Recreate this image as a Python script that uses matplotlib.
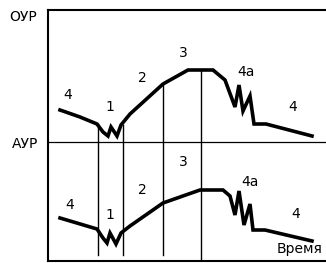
import matplotlib
matplotlib.use("Agg")
import matplotlib.pyplot as plt

# upper curve (ОУР), time vs level
upper_t = [12, 32, 49, 55, 60, 63, 69, 73, 82, 115, 140, 165, 177, 187, 191, 195, 202, 206, 218, 264]
upper_y = [151, 144, 137, 129, 125, 134, 125, 136, 147, 177, 191, 191, 181, 154, 176, 150, 165, 137, 137, 125]

# lower curve (АУР)
lower_t = [12, 49, 55, 59, 62, 68, 73, 82, 115, 152, 175, 182, 187, 191, 196, 202, 205, 217, 264]
lower_y = [43, 32, 23, 18, 28, 17, 28, 35, 58, 71, 71, 65, 46, 70, 36, 57, 31, 31, 20]

# phase boundaries: x, top, bottom
bounds_x = [50, 75, 115, 153]
bounds_top = [137, 136, 176, 191]
bounds_bot = [6, 6, 6, 0]

aur_level = 119

upper_labels = ["4", "1", "2", "3", "4а", "4"]
upper_lab_t = [20, 62, 94, 135, 198, 245]
upper_lab_y = [166, 154, 183, 208, 189, 154]

lower_labels = ["4", "1", "2", "3", "4а", "4"]
lower_lab_t = [22, 62, 94, 135, 202, 248]
lower_lab_y = [56, 46, 71, 99, 79, 47]

fig = plt.figure(figsize=(3.26, 2.63), dpi=100)
ax = fig.add_axes([48 / 326, 2 / 263, 278 / 326, 251 / 263])
ax.set_xlim(0, 278)
ax.set_ylim(0, 251)
ax.set_xticks([])
ax.set_yticks([])
ax.spines["right"].set_visible(False)
for s in ["left", "top", "bottom"]:
    ax.spines[s].set_linewidth(1.5)

ax.axhline(aur_level, color="black", lw=0.9)
for x, t, b in zip(bounds_x, bounds_top, bounds_bot):
    ax.plot([x, x], [b, t], color="black", lw=1.0)

ax.plot(upper_t, upper_y, color="black", lw=2.6, solid_joinstyle="miter")
ax.plot(lower_t, lower_y, color="black", lw=2.6, solid_joinstyle="miter")

for s, x, y in zip(upper_labels, upper_lab_t, upper_lab_y):
    ax.text(x, y, s, fontsize=10, ha="center", va="center")
for s, x, y in zip(lower_labels, lower_lab_t, lower_lab_y):
    ax.text(x, y, s, fontsize=10, ha="center", va="center")

fig.text(23 / 326, 1 - 17 / 263, "ОУР", fontsize=10, ha="center", va="center")
fig.text(25 / 326, 1 - 144 / 263, "АУР", fontsize=10, ha="center", va="center")
ax.text(252, 12, "Время", fontsize=10, ha="center", va="center")

fig.savefig("out.png", dpi=100)
